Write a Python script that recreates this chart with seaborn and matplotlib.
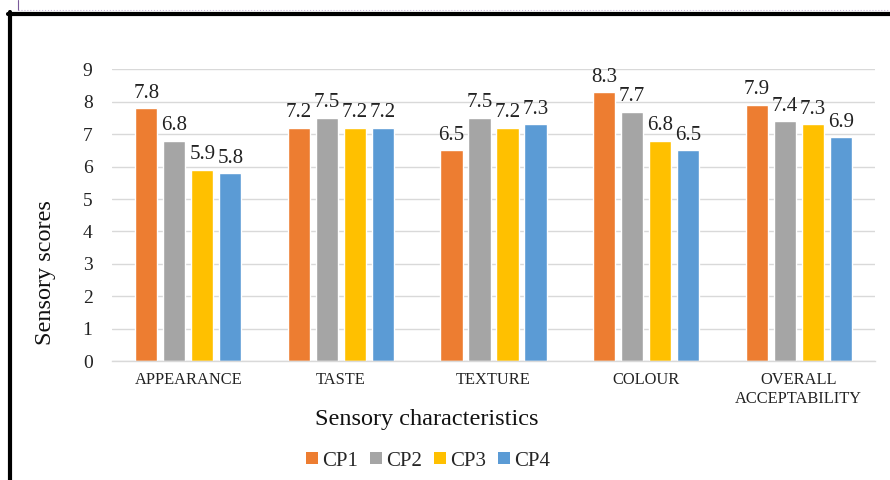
import matplotlib
matplotlib.use("Agg")
import matplotlib.pyplot as plt
from matplotlib.lines import Line2D
from matplotlib.patches import Patch
import seaborn as sns
import pandas as pd

categories = ["APPEARANCE", "TASTE", "TEXTURE", "COLOUR", "OVERALL\nACCEPTABILITY"]
series = ["CP1", "CP2", "CP3", "CP4"]
cp1 = [7.8, 7.2, 6.5, 8.3, 7.9]
cp2 = [6.8, 7.5, 7.5, 7.7, 7.4]
cp3 = [5.9, 7.2, 7.2, 6.8, 7.3]
cp4 = [5.8, 7.2, 7.3, 6.5, 6.9]
colors = ["#ED7D31", "#A5A5A5", "#FFC000", "#5B9BD5"]

rows = []
for name, vals in zip(series, [cp1, cp2, cp3, cp4]):
    for c, v in zip(categories, vals):
        rows.append({"cat": c, "series": name, "score": v})
df = pd.DataFrame(rows)

sns.set_theme(style="white")
plt.rcParams["font.family"] = ["Liberation Serif", "DejaVu Serif"]

W, H = 890, 480
fig = plt.figure(figsize=(W / 100, H / 100), dpi=100)
ax = fig.add_axes([112 / W, 1 - 361 / H, (875 - 112) / W, (361 - 69.4) / H])

sns.barplot(data=df, x="cat", y="score", hue="series", order=categories,
            hue_order=series, palette=colors, width=0.734, gap=0.21,
            saturation=1, legend=False, ax=ax, errorbar=None)

for cont in ax.containers:
    labels = [f"{b.get_height():.1f}" for b in cont]
    ax.bar_label(cont, labels=labels, padding=4, fontsize=15, color="#222222")

ax.set_ylim(0, 9)
ax.set_yticks(range(0, 10))
ax.yaxis.grid(True, color="#D9D9D9", linewidth=1)
ax.set_axisbelow(True)
for s in ["top", "right", "left"]:
    ax.spines[s].set_visible(False)
ax.spines["bottom"].set_color("#D9D9D9")
ax.spines["bottom"].set_linewidth(1)
ax.tick_params(axis="y", length=0, pad=14, labelsize=14, labelcolor="#222222")
ax.tick_params(axis="x", length=0, pad=8, labelsize=11.8, labelcolor="#222222")
ax.set_xlabel("")
ax.set_ylabel("")

fig.text(45 / W, 1 - 273 / H, "Sensory scores", rotation=90, ha="center",
         va="center", fontsize=17.5, color="#111111")
fig.text(427 / W, 1 - 420 / H, "Sensory characteristics", ha="center",
         va="center", fontsize=17.5, color="#111111")

handles = [Patch(facecolor=c, edgecolor="none") for c in colors]
fig.legend(handles, series, loc="center", bbox_to_anchor=(428 / W, 1 - 461 / H),
           ncol=4, frameon=False, fontsize=15, handlelength=0.55,
           handleheight=0.55, handletextpad=0.2, columnspacing=0.6)

# frame
fig.add_artist(Line2D([8 / W, 1.0], [1 - 13.5 / H] * 2, color="black",
                      linewidth=3, transform=fig.transFigure))
fig.add_artist(Line2D([10 / W] * 2, [0, 1 - 12 / H], color="black",
                      linewidth=3, transform=fig.transFigure))
fig.add_artist(Line2D([17.5 / W] * 2, [1 - 10 / H, 1.0], color="#7A5A9A",
                      linewidth=0.8, transform=fig.transFigure))
fig.add_artist(Line2D([17.5 / W, 1.0], [1 - 10 / H] * 2, color="#C8B8D8",
                      linewidth=0.8, linestyle=":", transform=fig.transFigure))

fig.savefig("out.png", dpi=100)
